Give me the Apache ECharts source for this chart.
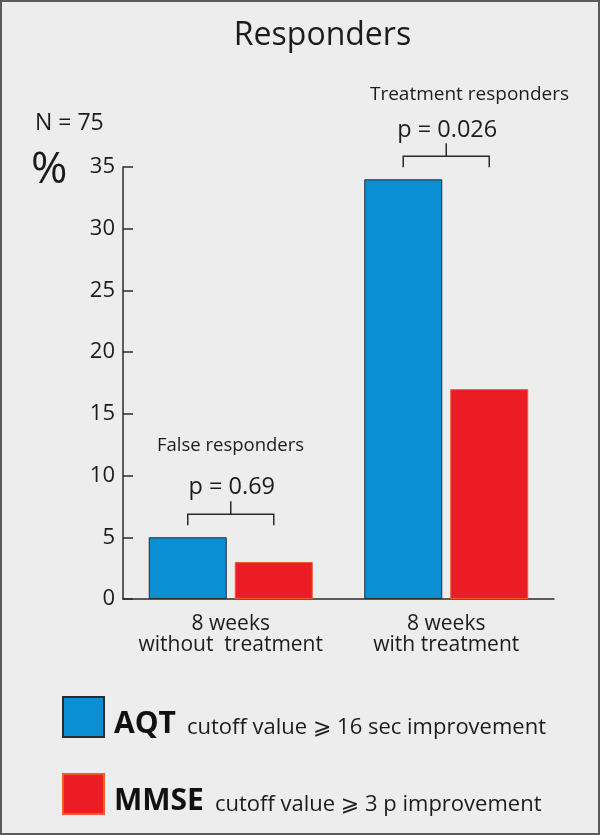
<!DOCTYPE html>
<html><head><meta charset="utf-8">
<script src="https://cdn.jsdelivr.net/npm/echarts@6/dist/echarts.min.js"></script>
<style>html,body{margin:0;padding:0;background:#ededed}#c{width:600px;height:835px}</style>
</head><body><div id="c"></div>
<script>
// ---- data ----
const categories = ['8 weeks\nwithout  treatment', '8 weeks\nwith treatment'];
const seriesNames = ['AQT', 'MMSE'];
const aqtValues = [5, 34];
const mmseValues = [3, 17];
const legendDesc = ['cutoff value \u2A7E 16 sec improvement', 'cutoff value \u2A7E 3 p improvement'];
const pValues = ['p = 0.69', 'p = 0.026'];
const groupLabels = ['False responders', 'Treatment responders'];
const yMin = 0, yMax = 35, yStep = 5;

// ---- styles ----
const FONT = "'Open Sans', 'DejaVu Sans', sans-serif";
const INK = '#1c1c1c';
const AXIS = '#2b2b2b';
const BAR_W = 78, BAR_GAP = 8;

const chart = echarts.init(document.getElementById('c'), null, {renderer: 'canvas'});
chart.setOption({
  backgroundColor: '#ededed',
  animation: false,
  grid: {left: 123, right: 46, top: 167, bottom: 236},
  xAxis: {
    type: 'category', data: categories,
    axisLine: {lineStyle: {color: AXIS, width: 1.5}},
    axisTick: {inside: true, length: 10, lineStyle: {color: AXIS, width: 1.5}},
    axisLabel: {interval: 0, color: INK, fontFamily: FONT, fontSize: 21, lineHeight: 21, margin: 15},
    splitLine: {show: false}
  },
  yAxis: {
    type: 'value', min: yMin, max: yMax, interval: yStep,
    axisLine: {show: true, lineStyle: {color: AXIS, width: 1.5}},
    axisTick: {show: true, inside: true, length: 10, lineStyle: {color: AXIS, width: 1.5}},
    axisLabel: {color: INK, fontFamily: FONT, fontSize: 22, margin: 8},
    splitLine: {show: false}
  },
  legend: {
    orient: 'vertical', left: 62, top: 695, padding: 0, itemWidth: 41, itemHeight: 40, itemGap: 33,
    icon: 'rect', selectedMode: false, data: seriesNames,
    formatter: function (name) {
      return '{sp| }{b|' + name + '}{n|' + legendDesc[seriesNames.indexOf(name)] + '}';
    },
    textStyle: {
      rich: {
        sp: {width: 5, fontSize: 1, lineHeight: 44, height: 44},
        b: {fontFamily: FONT, fontWeight: 'bold', fontSize: 30, lineHeight: 30, verticalAlign: 'bottom', color: '#111'},
        n: {fontFamily: FONT, fontSize: 22, lineHeight: 25.5, verticalAlign: 'bottom', padding: [0, 0, 0, 11], color: INK}
      }
    }
  },
  series: [
    {name: seriesNames[0], type: 'bar', data: aqtValues, barWidth: BAR_W, barGap: (BAR_GAP / BAR_W * 100) + '%',
     itemStyle: {color: '#0a8fd4', borderColor: '#2b2b2b', borderWidth: 1}},
    {name: seriesNames[1], type: 'bar', data: mmseValues, barWidth: BAR_W,
     itemStyle: {color: '#ec1c24', borderColor: '#f05a28', borderWidth: 1}}
  ]
});

// ---- annotations (brackets from the chart's own scales) ----
const els = [];
function txt(t, x, y, fs, align, weight) {
  els.push({type: 'text', silent: true, style: {
    text: t, x: x, y: y, fontSize: fs, fontFamily: FONT, fontWeight: weight || 'normal', fill: INK,
    align: align || 'center', textAlign: align || 'center', verticalAlign: 'middle', textVerticalAlign: 'middle'}});
}
for (let i = 0; i < categories.length; i++) {
  const cx = chart.convertToPixel({xAxisIndex: 0}, i);
  const xl = cx - (BAR_W + BAR_GAP) / 2, xr = cx + (BAR_W + BAR_GAP) / 2;
  const top = chart.convertToPixel({yAxisIndex: 0}, Math.max(aqtValues[i], mmseValues[i]));
  const yLeg = top - 12, yH = yLeg - 11, yStem = yH - 13, xs = (xl + xr) / 2;
  els.push({type: 'polyline', silent: true, shape: {points: [[xl, yLeg], [xl, yH], [xr, yH], [xr, yLeg]]},
            style: {stroke: AXIS, lineWidth: 1.5, fill: null}});
  els.push({type: 'line', silent: true, shape: {x1: xs, y1: yH, x2: xs, y2: yStem},
            style: {stroke: AXIS, lineWidth: 1.5}});
  txt(pValues[i], xs + 1, yStem - 13.5, 23.5);
}
txt('Responders', 322.5, 36, 32);
txt('N = 75', 35, 123, 23, 'left');
txt('%', 31, 170, 44, 'left');
txt(groupLabels[0], 230.5, 445.3, 18.5);
txt(groupLabels[1], 469.5, 94.3, 19);
els.push({type: 'rect', silent: true, shape: {x: 1, y: 1, width: 598, height: 833},
          style: {fill: null, stroke: '#5a5a5a', lineWidth: 2}});
chart.setOption({graphic: {elements: els}});
</script>
</body></html>
